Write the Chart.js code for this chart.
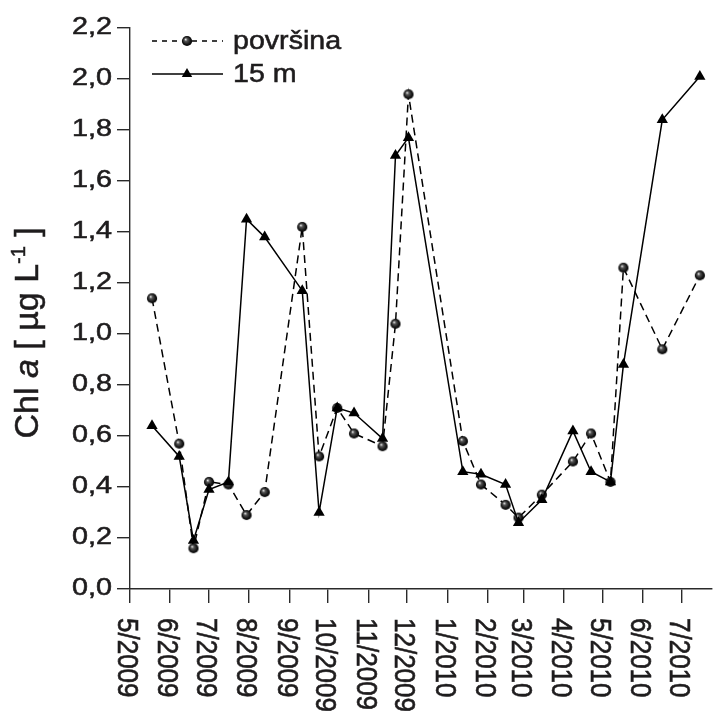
<!DOCTYPE html>
<html>
<head>
<meta charset="utf-8">
<script src="https://cdn.jsdelivr.net/npm/chart.js@4"></script>
<style>
html,body{margin:0;padding:0;background:#fff;}
canvas{display:block;}
</style>
</head>
<body>
<canvas id="c" width="718" height="711"></canvas>
<script>
// ---- data ----
const sampleDates = ['2009-05-18','2009-06-08','2009-06-19','2009-07-01','2009-07-16','2009-07-30','2009-08-13','2009-09-11','2009-09-24','2009-10-08','2009-10-21','2009-11-12','2009-11-22','2009-12-02','2010-01-13','2010-01-27','2010-02-15','2010-02-25','2010-03-15','2010-04-08','2010-04-22','2010-05-07','2010-05-17','2010-06-16','2010-07-15'];
const surface = [1.14,0.57,0.16,0.42,0.41,0.29,0.38,1.42,0.52,0.71,0.61,0.56,1.04,1.94,0.58,0.41,0.33,0.28,0.37,0.50,0.61,0.42,1.26,0.94,1.23];
const depth15 = [0.64,0.52,0.19,0.39,0.42,1.45,1.38,1.17,0.30,0.71,0.69,0.59,1.70,1.77,0.46,0.45,0.41,0.26,0.35,0.62,0.46,0.42,0.88,1.84,2.01];
const xTickDates = ['2009-05-01','2009-06-01','2009-07-01','2009-08-01','2009-09-01','2009-10-01','2009-11-01','2009-12-01','2010-01-01','2010-02-01','2010-03-01','2010-04-01','2010-05-01','2010-06-01','2010-07-01'];
const xTickLabels = ['5/2009','6/2009','7/2009','8/2009','9/2009','10/2009','11/2009','12/2009','1/2010','2/2010','3/2010','4/2010','5/2010','6/2010','7/2010'];
const yTickLabels = ['0,0','0,2','0,4','0,6','0,8','1,0','1,2','1,4','1,6','1,8','2,0','2,2'];
const seriesNames = ['površina','15 m'];
const xEndDate = '2010-07-24';

// ---- helpers ----
const DAY = 86400000;
const T0 = Date.UTC(2009,4,1);
function dayOf(s){const p=s.split('-').map(Number);return (Date.UTC(p[0],p[1]-1,p[2])-T0)/DAY;}
const xTickDays = xTickDates.map(dayOf);

const INK = '#1e1c1d';
const FONT = '"Liberation Sans", Arial, Helvetica, sans-serif';

// shaded sphere marker
const sphere = document.createElement('canvas');
sphere.width = 12; sphere.height = 12;
(function(){
  const g = sphere.getContext('2d');
  const grad = g.createRadialGradient(4.5,4.3,0.2,6,6,5.4);
  grad.addColorStop(0,'#e8e8e8');
  grad.addColorStop(0.28,'#555');
  grad.addColorStop(0.7,'#161616');
  grad.addColorStop(1,'#000');
  g.fillStyle = grad;
  g.beginPath(); g.arc(6,6,5.1,0,Math.PI*2); g.fill();
})();

function sText(ctx, txt, x, y, font, align, sx, sy){
  ctx.save();
  ctx.translate(x,y);
  ctx.scale(sx||1, sy||1);
  ctx.font = font;
  ctx.textAlign = align || 'left';
  ctx.lineWidth = 0.55;
  ctx.strokeStyle = INK;
  ctx.fillText(txt,0,0);
  ctx.strokeText(txt,0,0);
  ctx.restore();
}

function drawTriangle(ctx,x,y,r){
  const a = Math.PI*2/3;
  ctx.beginPath();
  ctx.moveTo(x, y - r);
  ctx.lineTo(x + Math.sin(a)*r, y - Math.cos(a)*r);
  ctx.lineTo(x + Math.sin(2*a)*r, y - Math.cos(2*a)*r);
  ctx.closePath();
  ctx.fill();
}

const textPlugin = {
  id: 'textPlugin',
  afterDraw(chart){
    const ctx = chart.ctx;
    const xs = chart.scales.x, ys = chart.scales.y;
    ctx.save();
    ctx.fillStyle = INK;
    // y tick labels
    ctx.textBaseline = 'middle';
    ys.ticks.forEach((t,i)=>{
      const py = ys.getPixelForValue(t.value);
      sText(ctx, yTickLabels[i], 112, py, '23px '+FONT, 'right', 1.25, 1);
    });
    // x tick labels, rotated clockwise
    xTickDays.forEach((d,i)=>{
      const px = xs.getPixelForValue(d);
      ctx.save();
      ctx.translate(px - 3.5, 618);
      ctx.rotate(Math.PI/2);
      ctx.scale(1, 1.15);
      ctx.font = '26px '+FONT;
      ctx.textAlign = 'left';
      ctx.textBaseline = 'middle';
      ctx.lineWidth = 0.55;
      ctx.strokeStyle = INK;
      ctx.fillText(xTickLabels[i], 0, 0);
      ctx.strokeText(xTickLabels[i], 0, 0);
      ctx.restore();
    });
    // y axis title (reads bottom to top)
    ctx.save();
    ctx.translate(38, 438.5);
    ctx.rotate(-Math.PI/2);
    ctx.textBaseline = 'alphabetic';
    ctx.textAlign = 'left';
    ctx.lineWidth = 0.5;
    ctx.strokeStyle = INK;
    const pieces = [
      ['Chl ', 'normal', 34, 0],
      ['a', 'italic', 34, 0],
      [' [ µg L', 'normal', 34, 0],
      ['-1', 'normal', 20, -13],
      [' ]', 'normal', 34, 0]
    ];
    let cx = 0;
    pieces.forEach(p=>{
      ctx.font = p[1]+' '+p[2]+'px '+FONT;
      ctx.fillText(p[0], cx, p[3]);
      ctx.strokeText(p[0], cx, p[3]);
      cx += ctx.measureText(p[0]).width;
    });
    ctx.restore();
    // legend
    ctx.strokeStyle = '#000';
    ctx.lineWidth = 1.4;
    ctx.setLineDash([5,5]);
    ctx.beginPath(); ctx.moveTo(152,41); ctx.lineTo(223,41); ctx.stroke();
    ctx.setLineDash([]);
    ctx.beginPath(); ctx.moveTo(152,74); ctx.lineTo(223,74); ctx.stroke();
    ctx.drawImage(sphere, 187-6, 41-6);
    ctx.fillStyle = '#000';
    drawTriangle(ctx, 187, 74, 6);
    ctx.fillStyle = INK;
    ctx.textBaseline = 'alphabetic';
    sText(ctx, seriesNames[0], 233, 49, '26px '+FONT, 'left', 1.1, 1);
    sText(ctx, seriesNames[1], 233, 82, '26px '+FONT, 'left', 1.1, 1);
    ctx.restore();
  }
};

new Chart(document.getElementById('c'), {
  type: 'line',
  data: {
    datasets: [
      {
        label: seriesNames[1],
        data: sampleDates.map((d,i)=>({x: dayOf(d), y: depth15[i]})),
        borderColor: '#000',
        borderWidth: 1.5,
        pointStyle: 'triangle',
        pointRadius: 6.5,
        pointBackgroundColor: '#000',
        pointBorderColor: '#000',
        pointBorderWidth: 0,
        tension: 0,
        fill: false
      },
      {
        label: seriesNames[0],
        data: sampleDates.map((d,i)=>({x: dayOf(d), y: surface[i]})),
        borderColor: '#000',
        borderWidth: 1.5,
        borderDash: [8,5],
        pointStyle: sphere,
        pointRadius: 5,
        tension: 0,
        fill: false
      }
    ]
  },
  options: {
    responsive: false,
    animation: false,
    devicePixelRatio: 1,
    layout: { padding: { left: 0, top: 28, right: 0, bottom: 0 } },
    plugins: { legend: { display: false }, tooltip: { enabled: false } },
    scales: {
      x: {
        type: 'linear',
        min: 0,
        max: dayOf(xEndDate),
        afterBuildTicks(scale){ scale.ticks = xTickDays.map(v=>({value:v})); },
        afterFit(scale){ scale.height = 122; },
        ticks: { display: false },
        grid: { drawOnChartArea: false, drawTicks: true, tickLength: 14, color: '#2a2a2a', lineWidth: 1.4 },
        border: { display: true, color: '#2a2a2a', width: 1.4 }
      },
      y: {
        min: 0,
        max: 2.2,
        ticks: { display: false, stepSize: 0.2 },
        afterFit(scale){ scale.width = 130; },
        grid: { drawOnChartArea: false, drawTicks: true, tickLength: 13, color: '#2a2a2a', lineWidth: 1.4 },
        border: { display: true, color: '#2a2a2a', width: 1.4 }
      }
    }
  },
  plugins: [textPlugin]
});
</script>
</body>
</html>
